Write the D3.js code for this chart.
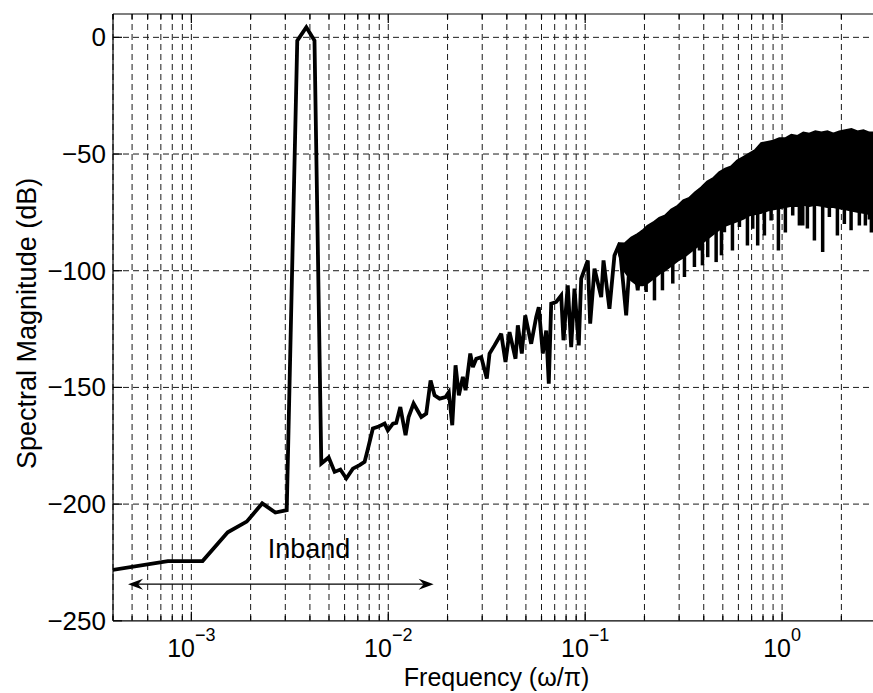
<!DOCTYPE html>
<html><head><meta charset="utf-8">
<script src="https://cdn.jsdelivr.net/npm/d3@7"></script>
<style>
body{margin:0;background:#fff;}
text{font-family:Arial,"Liberation Sans",Helvetica,sans-serif;fill:#000;}
</style>
</head><body>
<svg id="chart" width="873" height="693"></svg>
<script>
// ---------- DATA ----------
// Low/mid frequency part of the spectrum (normalised frequency, dB)
const lineFreq = [3.8e-4, 7.6e-4, 1.14e-3, 1.53e-3, 1.91e-3, 2.29e-3, 2.67e-3, 3.05e-3,
  3.45e-3, 3.835e-3, 4.22e-3, 4.57e-3, 4.98e-3, 5.34e-3, 5.71e-3, 6.12e-3, 6.61e-3, 7.15e-3,
  7.58e-3, 7.85e-3, 8.35e-3, 8.86e-3, 9.58e-3, 9.95e-3, 1.056e-2, 1.098e-2, 1.151e-2, 1.224e-2,
  1.268e-2, 1.344e-2, 1.471e-2, 1.559e-2, 1.640e-2, 1.718e-2, 1.822e-2, 1.954e-2, 2.030e-2,
  2.113e-2, 2.196e-2, 2.283e-2, 2.392e-2, 2.469e-2, 2.608e-2, 2.689e-2, 2.798e-2, 2.966e-2,
  3.166e-2, 3.268e-2, 3.464e-2, 3.746e-2, 3.938e-2, 4.127e-2, 4.428e-2, 4.549e-2, 4.766e-2,
  4.960e-2, 5.318e-2, 5.638e-2, 5.812e-2, 6.091e-2, 6.339e-2, 6.534e-2, 6.720e-2, 7.124e-2,
  7.553e-2, 7.758e-2, 8.159e-2, 8.489e-2, 8.823e-2, 9.279e-2, 9.543e-2, 0.1031, 0.1060, 0.1115,
  0.1206, 0.1239, 0.1328, 0.1408, 0.1493, 0.1615, 0.1712, 0.1849, 0.1961];
const lineDb = [-228.5, -224.4, -224.4, -212.1, -207.5, -199.7, -203.6, -202.6,
  -1.4, 4.3, -1.4, -182.6, -180.0, -186.2, -185.2, -189.0, -184.8, -183.3,
  -181.9, -176.9, -167.6, -166.9, -165.5, -168.4, -165.5, -165.2, -158.4, -170.5,
  -162.7, -156.9, -162.7, -161.2, -147.0, -153.4, -154.8, -154.1, -152.0,
  -166.2, -140.5, -153.4, -145.5, -151.2, -135.5, -141.3, -137.7, -137.0,
  -146.2, -135.5, -132.0, -127.0, -139.1, -126.3, -137.7, -123.4, -135.5,
  -119.1, -131.3, -119.9, -115.6, -135.5, -125.6, -148.4, -114.1, -113.4,
  -110.6, -129.8, -106.3, -132.7, -107.7, -132.0, -103.4, -95.6, -122.7, -99.1,
  -111.3, -95.6, -116.3, -93.5, -88.4, -119.1, -86.3, -108.4, -82.7];

// Dense high-frequency band: upper and lower envelopes (dB)
const bandFreq = [0.1493, 0.1591, 0.1720, 0.1849, 0.1961, 0.2072, 0.2224, 0.2384, 0.2558,
  0.2744, 0.2943, 0.3158, 0.3384, 0.3632, 0.3897, 0.4179, 0.4484, 0.4806, 0.5157, 0.5529,
  0.5932, 0.6364, 0.6823, 0.7317, 0.7853, 0.8423, 0.9035, 0.9689, 1.0393, 1.115, 1.196,
  1.283, 1.376, 1.476, 1.583, 1.698, 1.821, 1.954, 2.096, 2.248, 2.411, 2.586, 2.774, 2.975, 3.1416];
const bandUpper = [-88.4, -88.5, -86, -84.5, -83, -81, -79.5, -77.5, -76.5,
  -74, -72.5, -70, -69, -66.5, -64.5, -62, -60.5, -58, -56.5, -55.5,
  -53, -51.5, -50, -48.5, -45.5, -45, -44.5, -43.5, -43.5, -42, -42.5,
  -41, -41.5, -40.5, -41, -40.5, -41.5, -40.5, -40, -39.5, -40.5, -40, -41, -41, -41.5];
const bandLower = [-93, -100, -104, -106, -106, -105, -103, -101, -99.5,
  -97.5, -95.5, -94, -92, -90, -88, -86, -84, -82, -80.5, -79.5,
  -78.5, -77.5, -76, -75.5, -75, -74, -73.5, -73, -72.5, -72, -72,
  -71.5, -72, -71.5, -72, -72.5, -72.5, -73, -73.5, -74, -74.5, -75, -75.5, -75, -75];

// Deep downward spikes inside the band
const spikeFreq = [0.2040, 0.2248, 0.2468, 0.2785, 0.3192, 0.3587, 0.3804, 0.3939, 0.4191,
  0.4624, 0.4920, 0.5094, 0.5595, 0.6071, 0.6667, 0.7093, 0.7516, 0.8131, 0.8793, 0.9577,
  1.039, 1.132, 1.224, 1.273, 1.344, 1.459, 1.607, 1.738, 1.909, 2.071, 2.240, 2.468, 2.648,
  2.774, 2.840];
const spikeDb = [-109.1, -112.7, -108.4, -105.5, -102.7, -98.4, -91.3, -97.7, -94.2,
  -96.3, -93.4, -83.5, -91.3, -81.3, -89.2, -82.0, -89.2, -84.9, -78.5, -91.3,
  -83.6, -76.3, -80.6, -80.6, -81.9, -87.0, -92.0, -77.0, -84.9, -80.0, -82.7, -80.6, -80.6,
  -78.0, -83.6];

// Axes
const xTickValues = [1e-3, 1e-2, 1e-1, 1];
const xTickExponents = ["\u22123", "\u22122", "\u22121", "0"];
const yTickValues = [-250, -200, -150, -100, -50, 0];
const yTickLabels = ["\u2212250", "\u2212200", "\u2212150", "\u2212100", "\u221250", "0"];
const xLabel = "Frequency (\u03c9/\u03c0)";
const yLabel = "Spectral Magnitude (dB)";

// Annotation
const inbandFreqRange = [4.77e-4, 0.0170];
const inbandLevel = -234.3;
const inbandText = "Inband";
const inbandTextFreq = 2.44e-3;
const inbandTextDb = -223.1;

// ---------- DRAW ----------
const svg = d3.select("#chart");
svg.append("rect").attr("width", 873).attr("height", 693).attr("fill", "#fff");

const L = 113, R = 880, T = 14, B = 620.8;
const x = d3.scaleLog().domain([4e-4, Math.PI]).range([L, R]);
const y = d3.scaleLinear().domain([-250, 10]).range([B, T]);

svg.append("defs").append("clipPath").attr("id", "clip")
  .append("rect").attr("x", L).attr("y", T).attr("width", R - L).attr("height", B - T);

// grid
const grid = svg.append("g").attr("stroke", "#1a1a1a").attr("stroke-width", 1)
  .attr("stroke-dasharray", "6,4").attr("fill", "none");
const minorX = x.ticks();
grid.selectAll("line.v").data(minorX).join("line").attr("class", "v")
  .attr("x1", d => x(d)).attr("x2", d => x(d)).attr("y1", T).attr("y2", B);
grid.selectAll("line.h").data(yTickValues.filter(v => v > -250)).join("line").attr("class", "h")
  .attr("x1", L).attr("x2", R).attr("y1", d => y(d)).attr("y2", d => y(d));

const plot = svg.append("g").attr("clip-path", "url(#clip)");

// band
const bandData = bandFreq.map((f, i) => ({f, u: bandUpper[i], l: bandLower[i]}));
plot.append("path").datum(bandData)
  .attr("d", d3.area().x(d => x(d.f)).y0(d => y(d.l)).y1(d => y(d.u)))
  .attr("fill", "#000").attr("stroke", "#000").attr("stroke-width", 3);

// spikes
const spikes = spikeFreq.map((f, i) => ({f, v: spikeDb[i]}));
plot.selectAll("line.spike").data(spikes).join("line").attr("class", "spike")
  .attr("x1", d => x(d.f)).attr("x2", d => x(d.f))
  .attr("y1", d => y(d.v)).attr("y2", d => y(d.v + 22))
  .attr("stroke", "#000").attr("stroke-width", 3.5);

// main line
const lineData = lineFreq.map((f, i) => ({f, v: lineDb[i]}));
plot.append("path").datum(lineData)
  .attr("d", d3.line().x(d => x(d.f)).y(d => y(d.v)))
  .attr("fill", "none").attr("stroke", "#000").attr("stroke-width", 3.8)
  .attr("stroke-linejoin", "miter").attr("stroke-miterlimit", 3);

// axes frame
const frame = svg.append("g").attr("stroke", "#000").attr("stroke-width", 1.2).attr("fill", "none");
frame.append("line").attr("x1", L).attr("x2", R).attr("y1", T).attr("y2", T);
frame.append("line").attr("x1", L).attr("x2", R).attr("y1", B).attr("y2", B);
frame.append("line").attr("x1", L).attr("x2", L).attr("y1", T).attr("y2", B);
frame.append("line").attr("x1", R).attr("x2", R).attr("y1", T).attr("y2", B);

// tick marks (inside)
const isMajor = d => xTickValues.some(v => Math.abs(Math.log10(d) - Math.log10(v)) < 1e-6);
minorX.forEach(d => {
  const len = isMajor(d) ? 9 : 5;
  frame.append("line").attr("x1", x(d)).attr("x2", x(d)).attr("y1", B).attr("y2", B - len);
  frame.append("line").attr("x1", x(d)).attr("x2", x(d)).attr("y1", T).attr("y2", T + len);
});
yTickValues.forEach(v => {
  frame.append("line").attr("x1", L).attr("x2", L + 9).attr("y1", y(v)).attr("y2", y(v));
});

// y tick labels
svg.append("g").selectAll("text").data(yTickValues).join("text")
  .attr("x", 106).attr("y", d => y(d) + 9).attr("text-anchor", "end")
  .attr("font-size", 26).text((d, i) => yTickLabels[i]);

// x tick labels
const xt = svg.append("g").selectAll("text").data(xTickValues).join("text")
  .attr("x", d => x(d)).attr("y", 657).attr("text-anchor", "middle").attr("font-size", 25);
xt.append("tspan").text("10");
xt.append("tspan").attr("dy", -16).attr("font-size", 18).text((d, i) => xTickExponents[i]);

// axis labels
svg.append("text").attr("x", (L + R) / 2).attr("y", 686).attr("text-anchor", "middle")
  .attr("font-size", 25).text(xLabel);
svg.append("text").attr("transform", `translate(36,${(T + B) / 2 + 6}) rotate(-90)`)
  .attr("text-anchor", "middle").attr("font-size", 27).text(yLabel);

// Inband annotation
svg.append("text").attr("x", x(inbandTextFreq)).attr("y", y(inbandTextDb))
  .attr("font-size", 27).text(inbandText);
const ax1 = x(inbandFreqRange[0]), ax2 = x(inbandFreqRange[1]), ay = y(inbandLevel);
svg.append("line").attr("x1", ax1 + 4).attr("x2", ax2 - 4).attr("y1", ay).attr("y2", ay)
  .attr("stroke", "#000").attr("stroke-width", 1.2);
const head = (tip, dir) => {
  const p = d3.path();
  p.moveTo(tip, ay);
  p.lineTo(tip + dir * 15, ay - 5.5);
  p.lineTo(tip + dir * 10, ay);
  p.lineTo(tip + dir * 15, ay + 5.5);
  p.closePath();
  return p.toString();
};
svg.append("path").attr("d", head(ax1, 1)).attr("fill", "#000");
svg.append("path").attr("d", head(ax2, -1)).attr("fill", "#000");
</script>
</body></html>
